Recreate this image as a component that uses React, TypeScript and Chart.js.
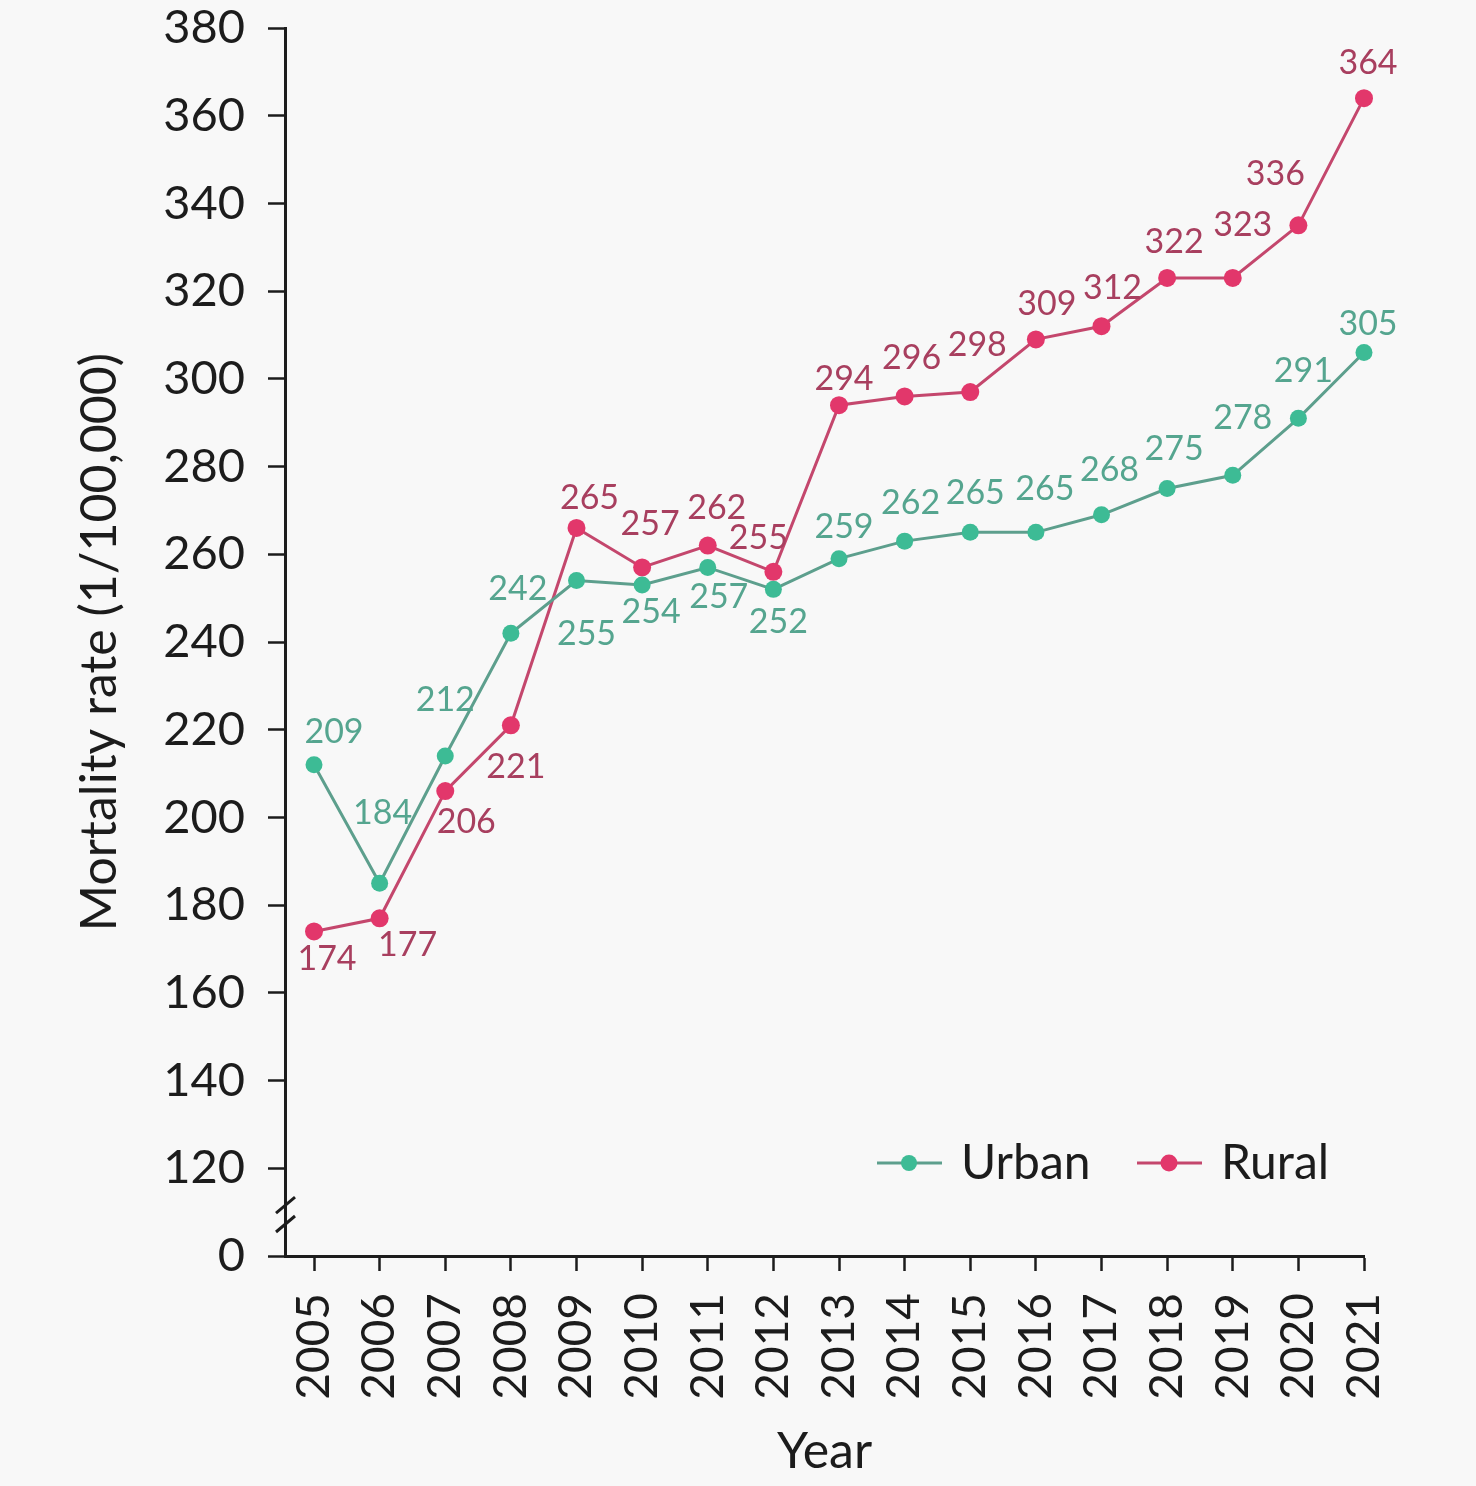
import { useEffect, useRef } from 'react';
import Chart from 'chart.js/auto';

const years = [2005, 2006, 2007, 2008, 2009, 2010, 2011, 2012, 2013, 2014, 2015, 2016, 2017, 2018, 2019, 2020, 2021];

// plotted positions
const urbanValues = [212, 185, 214, 242, 254, 253, 257, 252, 259, 263, 265, 265, 269, 275, 278, 291, 306];
const ruralValues = [174, 177, 206, 221, 266, 257, 262, 256, 294, 296, 297, 309, 312, 323, 323, 335, 364];

// printed value labels
const urbanLabels = ['209', '184', '212', '242', '255', '254', '257', '252', '259', '262', '265', '265', '268', '275', '278', '291', '305'];
const ruralLabels = ['174', '177', '206', '221', '265', '257', '262', '255', '294', '296', '298', '309', '312', '322', '323', '336', '364'];

const yTicks = [100, 120, 140, 160, 180, 200, 220, 240, 260, 280, 300, 320, 340, 360, 380];

// label placement relative to each point (px)
const urbanLabelOffsets = [
  [20, -33], [3, -70], [0, -56], [7, -44], [10, 53], [9, 27], [11, 30], [5, 33],
  [5, -32], [6, -38], [5, -39], [9, -43], [8, -45], [7, -39], [10, -57], [5, -47], [4, -29],
];
const ruralLabelOffsets = [
  [13, 28], [28, 27], [21, 31], [5, 42], [13, -30], [8, -43], [9, -37], [-15, -34],
  [5, -26], [7, -38], [7, -47], [11, -35], [11, -38], [7, -36], [10, -53], [-23, -51], [4, -35],
];

const FONT = 'Lato, "Open Sans", sans-serif';
const INK = '#1c1c1c';
const URBAN_LINE = '#5d9f8d';
const URBAN_POINT = '#3dbb95';
const URBAN_TEXT = '#55a58f';
const RURAL_LINE = '#c4476d';
const RURAL_POINT = '#e2376b';
const RURAL_TEXT = '#a83f5f';

const valueLabels = {
  id: 'valueLabels',
  afterDatasetsDraw(chart: any) {
    const { ctx } = chart;
    const sets = [
      { labels: urbanLabels, offsets: urbanLabelOffsets, color: URBAN_TEXT },
      { labels: ruralLabels, offsets: ruralLabelOffsets, color: RURAL_TEXT },
    ];
    ctx.save();
    ctx.font = `34px ${FONT}`;
    ctx.textAlign = 'center';
    ctx.textBaseline = 'middle';
    sets.forEach((s, di) => {
      const meta = chart.getDatasetMeta(di);
      meta.data.forEach((pt: any, i: number) => {
        ctx.fillStyle = s.color;
        ctx.fillText(s.labels[i], pt.x + s.offsets[i][0], pt.y + s.offsets[i][1]);
      });
    });
    ctx.restore();
  },
};

const axisBreak = {
  id: 'axisBreak',
  afterDraw(chart: any) {
    const { ctx, chartArea } = chart;
    const y = chart.scales.y;
    const x0 = chartArea.left;
    ctx.save();
    ctx.strokeStyle = INK;
    ctx.lineWidth = 3;
    [111.6, 107.3].forEach((v) => {
      const py = y.getPixelForValue(v);
      ctx.beginPath();
      ctx.moveTo(x0 - 9, py + 8);
      ctx.lineTo(x0 + 10, py - 8);
      ctx.stroke();
    });
    ctx.restore();
  },
};

const cornerLegend = {
  id: 'cornerLegend',
  afterDraw(chart: any) {
    const { ctx, chartArea } = chart;
    const cy = chartArea.bottom - 93;
    const items = [
      { text: 'Urban', line: URBAN_LINE, point: URBAN_POINT, r: 8, x: chartArea.right - 487 },
      { text: 'Rural', line: RURAL_LINE, point: RURAL_POINT, r: 8.5, x: chartArea.right - 227 },
    ];
    ctx.save();
    ctx.font = `48px ${FONT}`;
    ctx.textBaseline = 'middle';
    ctx.textAlign = 'left';
    items.forEach((it) => {
      ctx.strokeStyle = it.line;
      ctx.lineWidth = 3;
      ctx.beginPath();
      ctx.moveTo(it.x, cy);
      ctx.lineTo(it.x + 65, cy);
      ctx.stroke();
      ctx.fillStyle = it.point;
      ctx.beginPath();
      ctx.arc(it.x + 32, cy, it.r, 0, Math.PI * 2);
      ctx.fill();
      ctx.fillStyle = INK;
      ctx.fillText(it.text, it.x + 84, cy + 1);
    });
    ctx.restore();
  },
};

export default function App() {
  const chartRef = useRef<HTMLCanvasElement>(null);
  const chartInstance = useRef<Chart | null>(null);

  useEffect(() => {
    document.body.style.margin = '0';
    document.body.style.background = '#f8f8f8';
    if (!chartRef.current) return;
    if (chartInstance.current) {
      chartInstance.current.destroy();
    }
    const ctx = chartRef.current.getContext('2d');
    if (!ctx) return;

    chartInstance.current = new Chart(ctx, {
      type: 'line',
      data: {
        datasets: [
          {
            label: 'Urban',
            data: years.map((yr, i) => ({ x: yr, y: urbanValues[i] })),
            borderColor: URBAN_LINE,
            borderWidth: 3,
            pointBackgroundColor: URBAN_POINT,
            pointBorderWidth: 0,
            pointRadius: 8.5,
            tension: 0,
            clip: false,
          },
          {
            label: 'Rural',
            data: years.map((yr, i) => ({ x: yr, y: ruralValues[i] })),
            borderColor: RURAL_LINE,
            borderWidth: 3,
            pointBackgroundColor: RURAL_POINT,
            pointBorderWidth: 0,
            pointRadius: 9,
            tension: 0,
            clip: false,
          },
        ],
      },
      options: {
        animation: false,
        responsive: true,
        maintainAspectRatio: false,
        layout: {
          padding: { top: 28, right: 112, left: 0, bottom: 0 },
        },
        scales: {
          x: {
            type: 'linear',
            min: 2004.558,
            max: 2021,
            afterBuildTicks: (scale: any) => {
              scale.ticks = years.map((v) => ({ value: v }));
            },
            afterFit: (scale: any) => {
              scale.height = 230;
              scale.paddingLeft = 0;
              scale.paddingRight = 0;
            },
            ticks: {
              autoSkip: false,
              maxRotation: 90,
              minRotation: 90,
              padding: 22,
              color: INK,
              font: { family: FONT, size: 46 },
              callback: (v: any) => String(v),
            },
            grid: {
              drawOnChartArea: false,
              drawTicks: true,
              tickLength: 15,
              tickColor: INK,
              tickWidth: 2.5,
            },
            border: { color: INK, width: 3 },
            title: {
              display: true,
              text: 'Year',
              color: INK,
              font: { family: FONT, size: 50 },
              padding: { top: 0, bottom: 4 },
            },
          },
          y: {
            min: 100,
            max: 380,
            afterBuildTicks: (scale: any) => {
              scale.ticks = yTicks.map((v) => ({ value: v }));
            },
            afterFit: (scale: any) => {
              scale.width = 285;
              scale.paddingTop = 0;
              scale.paddingBottom = 0;
            },
            ticks: {
              padding: 23,
              color: INK,
              font: { family: FONT, size: 47 },
              callback: (v: any) => (v === 100 ? '0' : String(v)),
            },
            grid: {
              drawOnChartArea: false,
              drawTicks: true,
              tickLength: 17,
              tickColor: INK,
              tickWidth: 2.5,
            },
            border: { color: INK, width: 3 },
            title: {
              display: true,
              text: 'Mortality rate (1/100,000)',
              color: INK,
              font: { family: FONT, size: 50 },
              padding: { top: 70, bottom: 0 },
            },
          },
        },
        plugins: {
          legend: { display: false },
          tooltip: { enabled: false },
        },
      },
      plugins: [valueLabels, axisBreak, cornerLegend],
    });

    return () => {
      if (chartInstance.current) {
        chartInstance.current.destroy();
        chartInstance.current = null;
      }
    };
  }, []);

  return (
    <div style={{ width: 1476, height: 1486, background: '#f8f8f8' }}>
      <canvas ref={chartRef} />
    </div>
  );
}
